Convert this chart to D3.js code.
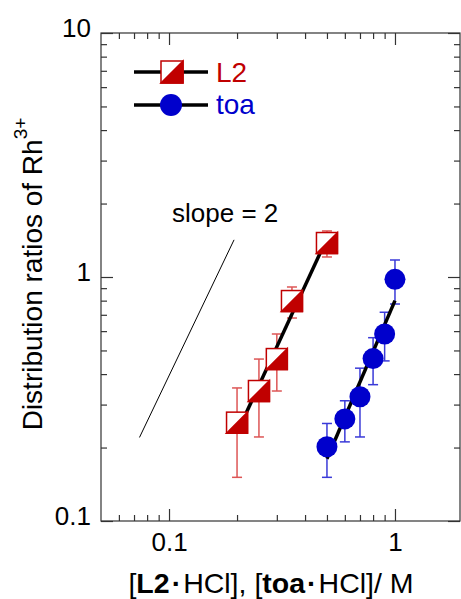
<!DOCTYPE html>
<html>
<head>
<meta charset="utf-8">
<script src="https://cdn.jsdelivr.net/npm/d3@7"></script>
<style>
  body { margin: 0; background: #fff; }
  svg { display: block; font-family: "Liberation Sans", Arial, sans-serif; }
</style>
</head>
<body>
<div id="chart"></div>
<script>
// L2 series: concentration, distribution ratio, error bar top / bottom
var l2Conc = [0.2, 0.25, 0.3, 0.35, 0.5];
var l2D    = [0.253, 0.341, 0.461, 0.797, 1.378];
var l2Hi   = [0.351, 0.461, 0.584, 0.910, 1.544];
var l2Lo   = [0.151, 0.221, 0.341, 0.679, 1.208];

// toa series
var toaConc = [0.5, 0.6, 0.7, 0.8, 0.9, 1.0];
var toaD    = [0.2015, 0.262, 0.323, 0.463, 0.584, 0.978];
var toaHi   = [0.251, 0.311, 0.423, 0.564, 0.717, 1.174];
var toaLo   = [0.151, 0.211, 0.221, 0.362, 0.453, 0.775];

// fitted lines and the slope = 2 guide (end points)
var l2FitX = [0.2, 0.5],    l2FitY = [0.23, 1.44];
var toaFitX = [0.5, 1.0],   toaFitY = [0.18, 0.80];
var slopeX = [0.074, 0.194], slopeY = [0.22, 1.42];

// ticks
var xTicks = [0.1, 1],      xTickLabels = ['0.1', '1'];
var yTicks = [0.1, 1, 10],  yTickLabels = ['0.1', '1', '10'];

var red = '#c00000', redBar = '#dd5555';
var blue = '#0000cc', blueBar = '#3a3ad8';

var W = 461, H = 599;
var svg = d3.select('#chart').append('svg').attr('width', W).attr('height', H);

var x = d3.scaleLog().domain([0.05, 2]).range([101, 463]);
var y = d3.scaleLog().domain([0.1, 10]).range([521, 33]);

// minor ticks, every 1..9 of each decade
var xMinor = x.ticks().filter(function(d) { return xTicks.indexOf(d) < 0 && d > 0.05 && d < 2; });
var yMinor = y.ticks().filter(function(d) { return yTicks.indexOf(d) < 0 && d > 0.1 && d < 10; });

var axisColor = '#333';

function styleAxis(g) {
  g.select('.domain').remove();
  g.selectAll('line').attr('stroke', axisColor).attr('stroke-width', 1.2);
  g.selectAll('text').attr('fill', '#000').attr('font-size', 26).attr('font-family', '"Liberation Sans", Arial, sans-serif');
}

// bottom
svg.append('g').attr('transform', 'translate(0,521)')
  .call(d3.axisBottom(x).tickValues(xMinor).tickSize(-6).tickFormat('')).call(styleAxis);
svg.append('g').attr('transform', 'translate(0,521)')
  .call(d3.axisBottom(x).tickValues(xTicks).tickSize(-12).tickPadding(12)
    .tickFormat(function(d, i) { return xTickLabels[i]; })).call(styleAxis);
// top
svg.append('g').attr('transform', 'translate(0,33)')
  .call(d3.axisTop(x).tickValues(xMinor).tickSize(-6).tickFormat('')).call(styleAxis);
svg.append('g').attr('transform', 'translate(0,33)')
  .call(d3.axisTop(x).tickValues(xTicks).tickSize(-12).tickFormat('')).call(styleAxis);
// left
svg.append('g').attr('transform', 'translate(101,0)')
  .call(d3.axisLeft(y).tickValues(yMinor).tickSize(-6).tickFormat('')).call(styleAxis);
svg.append('g').attr('transform', 'translate(101,0)')
  .call(d3.axisLeft(y).tickValues(yTicks).tickSize(-12).tickPadding(10)
    .tickFormat(function(d, i) { return yTickLabels[i]; })).call(styleAxis)
  .selectAll('text').attr('dy', '0.12em');
// right
svg.append('g').attr('transform', 'translate(460,0)')
  .call(d3.axisRight(y).tickValues(yMinor).tickSize(-6).tickFormat('')).call(styleAxis);
svg.append('g').attr('transform', 'translate(460,0)')
  .call(d3.axisRight(y).tickValues(yTicks).tickSize(-12).tickFormat('')).call(styleAxis);

// frame
svg.append('rect')
  .attr('x', x.range()[0]).attr('y', y.range()[1])
  .attr('width', 460 - x.range()[0]).attr('height', y.range()[0] - y.range()[1])
  .attr('fill', 'none').attr('stroke', axisColor).attr('stroke-width', 1.2);

// axis titles
var xt = svg.append('text').attr('x', 271).attr('y', 593)
  .attr('text-anchor', 'middle').attr('font-size', 28.5);
xt.append('tspan').text('[');
xt.append('tspan').attr('font-weight', 'bold').text('L2');
xt.append('tspan').attr('font-weight', 'bold').attr('dx', 2).text('·');
xt.append('tspan').attr('dx', 2).text('HCl], [');
xt.append('tspan').attr('font-weight', 'bold').text('toa');
xt.append('tspan').attr('font-weight', 'bold').attr('dx', 2).text('·');
xt.append('tspan').attr('dx', 2).text('HCl]/ M');

var yt = svg.append('text').attr('transform', 'translate(42,274) rotate(-90)')
  .attr('text-anchor', 'middle').attr('font-size', 28);
yt.append('tspan').text('Distribution ratios of Rh');
yt.append('tspan').attr('font-size', 19).attr('dy', -15).text('3+');

// slope = 2 guide
var line = d3.line().x(function(d) { return x(d[0]); }).y(function(d) { return y(d[1]); });
svg.append('path').datum(d3.zip(slopeX, slopeY)).attr('d', line)
  .attr('fill', 'none').attr('stroke', '#000').attr('stroke-width', 1);
svg.append('text').attr('x', 172).attr('y', 222).attr('font-size', 26).text('slope = 2');

// error bars
function errorBars(cls, xs, lo, hi, color) {
  var g = svg.append('g').attr('class', cls).attr('stroke', color).attr('stroke-width', 1.5);
  xs.forEach(function(c, i) {
    var cx = x(c);
    g.append('line').attr('x1', cx).attr('x2', cx).attr('y1', y(lo[i])).attr('y2', y(hi[i]));
    g.append('line').attr('x1', cx - 5).attr('x2', cx + 5).attr('y1', y(lo[i])).attr('y2', y(lo[i]));
    g.append('line').attr('x1', cx - 5).attr('x2', cx + 5).attr('y1', y(hi[i])).attr('y2', y(hi[i]));
  });
}
errorBars('l2-err', l2Conc, l2Lo, l2Hi, redBar);
errorBars('toa-err', toaConc, toaLo, toaHi, blueBar);

// fitted lines
svg.append('path').datum(d3.zip(l2FitX, l2FitY)).attr('d', line)
  .attr('fill', 'none').attr('stroke', '#000').attr('stroke-width', 3.5);
svg.append('path').datum(d3.zip(toaFitX, toaFitY)).attr('d', line)
  .attr('fill', 'none').attr('stroke', '#000').attr('stroke-width', 3.5);

// half filled square marker
function halfSquare(g, cx, cy, s) {
  var h = s / 2;
  g.append('rect').attr('x', cx - h).attr('y', cy - h).attr('width', s).attr('height', s)
    .attr('fill', '#fff').attr('stroke', red).attr('stroke-width', 1.5);
  g.append('path')
    .attr('d', 'M' + (cx + h) + ',' + (cy - h) + 'L' + (cx + h) + ',' + (cy + h) + 'L' + (cx - h) + ',' + (cy + h) + 'Z')
    .attr('fill', red).attr('stroke', red).attr('stroke-width', 1.5);
}

var l2g = svg.append('g');
l2Conc.forEach(function(c, i) { halfSquare(l2g, x(c), y(l2D[i]), 21); });

svg.append('g').selectAll('circle').data(d3.zip(toaConc, toaD)).enter()
  .append('circle')
  .attr('cx', function(d) { return x(d[0]); })
  .attr('cy', function(d) { return y(d[1]); })
  .attr('r', 10.5).attr('fill', blue);

// legend
var lg = svg.append('g');
lg.append('line').attr('x1', 134).attr('x2', 208).attr('y1', 72).attr('y2', 72)
  .attr('stroke', '#000').attr('stroke-width', 3.5);
halfSquare(lg, 172, 72, 22);
lg.append('text').attr('x', 216).attr('y', 82).attr('font-size', 28).attr('fill', red).text('L2');
lg.append('line').attr('x1', 134).attr('x2', 208).attr('y1', 105).attr('y2', 105)
  .attr('stroke', '#000').attr('stroke-width', 3.5);
lg.append('circle').attr('cx', 171).attr('cy', 105).attr('r', 11).attr('fill', blue);
lg.append('text').attr('x', 216).attr('y', 114).attr('font-size', 28).attr('fill', blue).text('toa');
</script>
</body>
</html>
